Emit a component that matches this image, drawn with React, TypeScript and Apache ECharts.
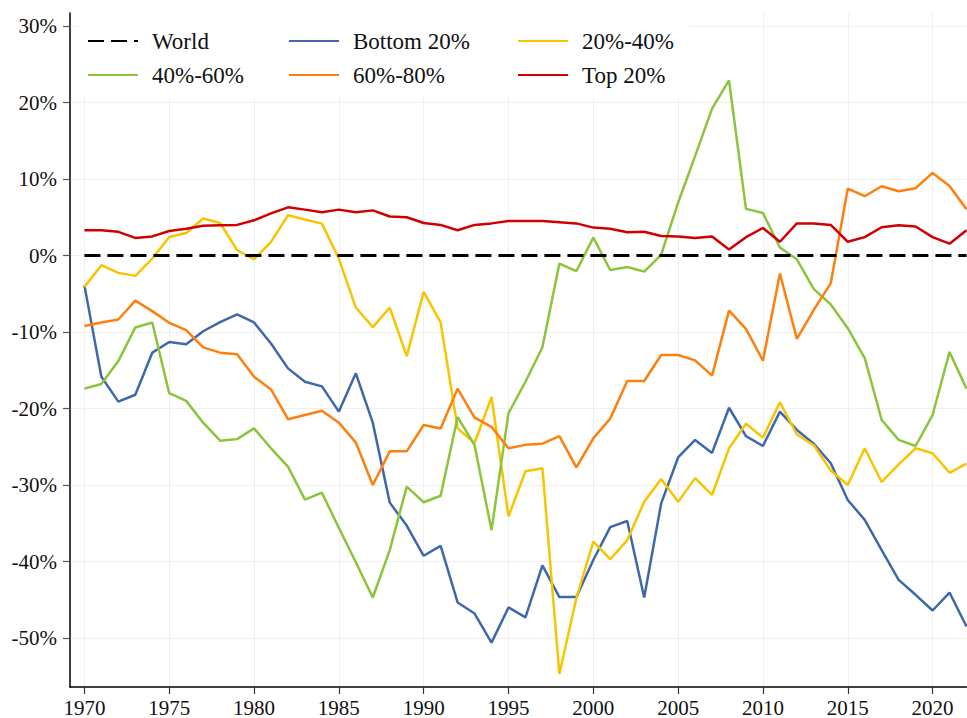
import React, { useEffect, useRef } from "react";
import * as echarts from "echarts";

const years: number[] = Array.from({ length: 53 }, (_, i) => 1970 + i);

const worldValues: number[] = years.map(() => 0);

const bottom20: number[] = [
  -3.9, -15.85, -19.1, -18.2, -12.7, -11.3, -11.6, -9.9, -8.7, -7.7,
  -8.75, -11.5, -14.75, -16.5, -17.1, -20.4, -15.4, -21.85, -32.3, -35.3,
  -39.25, -37.95, -45.35, -46.8, -50.6, -46.0, -47.3, -40.5, -44.65, -44.65,
  -39.8, -35.5, -34.7, -44.7, -32.4, -26.4, -24.1, -25.8, -19.9, -23.6,
  -24.9, -20.4, -22.8, -24.6, -27.15, -31.95, -34.55, -38.5, -42.4, -44.35,
  -46.4, -44.05, -48.5,
];

const q20to40: number[] = [
  -4.1, -1.27, -2.27, -2.66, -0.4, 2.43, 2.95, 4.83, 4.26, 0.69,
  -0.48, 1.78, 5.26, 4.7, 4.17, -0.4, -6.8, -9.36, -6.8, -13.15,
  -4.75, -8.75, -22.6, -24.5, -18.5, -34.1, -28.2, -27.8, -54.7, -44.8,
  -37.4, -39.7, -37.2, -32.2, -29.2, -32.2, -29.1, -31.3, -25.2, -22.0,
  -23.8, -19.2, -23.4, -24.8, -28.1, -30.0, -25.2, -29.6, -27.3, -25.2,
  -25.85, -28.4, -27.2,
];

const q40to60: number[] = [
  -17.4, -16.8, -13.8, -9.4, -8.75, -18.0, -19.0, -21.85, -24.2, -24.0,
  -22.6, -25.2, -27.6, -31.9, -31.0, -35.6, -40.1, -44.7, -38.5, -30.2,
  -32.25, -31.4, -21.1, -24.8, -35.9, -20.6, -16.5, -12.0, -1.05, -2.05,
  2.35, -1.9, -1.5, -2.1, 0.1, 6.9, 13.0, 19.2, 22.9, 6.1,
  5.56, 1.04, -0.5, -4.4, -6.4, -9.5, -13.4, -21.5, -24.1, -24.9,
  -20.85, -12.6, -17.4,
];

const q60to80: number[] = [
  -9.2, -8.75, -8.36, -5.9, -7.27, -8.8, -9.75, -12.0, -12.7, -12.9,
  -15.85, -17.5, -21.4, -20.85, -20.3, -21.85, -24.45, -30.0, -25.6, -25.6,
  -22.15, -22.6, -17.4, -21.2, -22.4, -25.2, -24.75, -24.6, -23.6, -27.7,
  -23.9, -21.3, -16.4, -16.4, -13.0, -13.0, -13.7, -15.7, -7.2, -9.6,
  -13.75, -2.35, -10.9, -7.1, -3.6, 8.75, 7.75, 9.05, 8.4, 8.8,
  10.8, 9.1, 6.05,
];

const top20: number[] = [
  3.3, 3.3, 3.1, 2.3, 2.5, 3.2, 3.5, 3.9, 3.95, 4.0,
  4.6, 5.5, 6.3, 6.0, 5.65, 6.0, 5.65, 5.9, 5.1, 5.0,
  4.25, 4.0, 3.3, 4.0, 4.2, 4.5, 4.5, 4.5, 4.35, 4.2,
  3.65, 3.5, 3.05, 3.1, 2.55, 2.5, 2.3, 2.5, 0.8, 2.4,
  3.6, 1.8, 4.2, 4.2, 4.0, 1.8, 2.4, 3.7, 3.95, 3.8,
  2.4, 1.55, 3.3,
];

const xTicks: number[] = [1970, 1975, 1980, 1985, 1990, 1995, 2000, 2005, 2010, 2015, 2020];
const yTicks: number[] = [-50, -40, -30, -20, -10, 0, 10, 20, 30];

const legendCols: string[][] = [
  ["World", "40%-60%"],
  ["Bottom 20%", "60%-80%"],
  ["20%-40%", "Top 20%"],
];

const FONT = "Liberation Serif";

const pairs = (vals: number[]) => years.map((y, i) => [y, vals[i]]);

export default function App() {
  const ref = useRef<HTMLDivElement>(null);
  useEffect(() => {
    if (!ref.current) return;
    const chart = echarts.init(ref.current, null, { renderer: "svg" });
    const lineSeries = (name: string, vals: number[], color: string, extra: any = {}) => ({
      name,
      type: "line",
      data: pairs(vals),
      symbol: "none",
      showSymbol: false,
      lineStyle: { color, width: 2.5, ...(extra.lineStyle || {}) },
      itemStyle: { color },
      z: extra.z ?? 2,
    });
    const legendLefts = [87, 288, 517];
    chart.setOption({
      animation: false,
      backgroundColor: "#ffffff",
      textStyle: { fontFamily: FONT },
      grid: { left: 70, top: 13, width: 896.5, height: 675, containLabel: false },
      xAxis: {
        type: "value",
        min: 1969.15,
        max: 2022,
        axisLine: { onZero: false, lineStyle: { color: "#000", width: 1.5 } },
        axisTick: { show: true, length: 7, customValues: xTicks, lineStyle: { color: "#333", width: 1.2 } },
        axisLabel: {
          customValues: xTicks,
          margin: 10,
          fontSize: 21,
          fontFamily: FONT,
          color: "#111",
          formatter: (v: number) => String(v),
        },
        splitLine: { show: true, lineStyle: { color: "#efefef", width: 1 } },
      },
      yAxis: {
        type: "value",
        min: -56.4,
        max: 31.7,
        axisLine: { show: true, onZero: false, lineStyle: { color: "#000", width: 1.5 } },
        axisTick: { show: true, length: 7, customValues: yTicks, lineStyle: { color: "#555", width: 1.2 } },
        axisLabel: {
          customValues: yTicks,
          margin: 13,
          fontSize: 21,
          fontFamily: FONT,
          color: "#111",
          formatter: (v: number) => v + "%",
        },
        splitLine: { show: true, lineStyle: { color: "#efefef", width: 1 } },
      },
      graphic: [
        {
          type: "rect",
          z: 3,
          shape: { x: 78, y: 14, width: 611, height: 83 },
          style: { fill: "#ffffff" },
          silent: true,
        },
      ],
      legend: legendCols.map((names, i) => ({
        orient: "vertical",
        left: legendLefts[i],
        top: 29,
        padding: 0,
        itemGap: 10,
        itemWidth: 50,
        itemHeight: 14,
        z: 5,
        data: names,
        itemStyle: { opacity: 0 },
        textStyle: {
          fontSize: 23,
          lineHeight: 24,
          fontFamily: FONT,
          color: "#111",
          padding: [0, 0, 0, 9],
        },
      })),
      series: [
        lineSeries("Bottom 20%", bottom20, "#3F68AC"),
        lineSeries("20%-40%", q20to40, "#F8C400"),
        lineSeries("40%-60%", q40to60, "#8CC43C"),
        lineSeries("60%-80%", q60to80, "#FF7F0E"),
        lineSeries("Top 20%", top20, "#D00000"),
        lineSeries("World", worldValues, "#000000", {
          lineStyle: { width: 3, type: [16, 7] },
          z: 2,
        }),
      ],
    });
    return () => chart.dispose();
  }, []);
  return (
    <div
      ref={ref}
      style={{ position: "fixed", left: 0, top: 0, width: 967, height: 718, background: "#fff" }}
    />
  );
}
